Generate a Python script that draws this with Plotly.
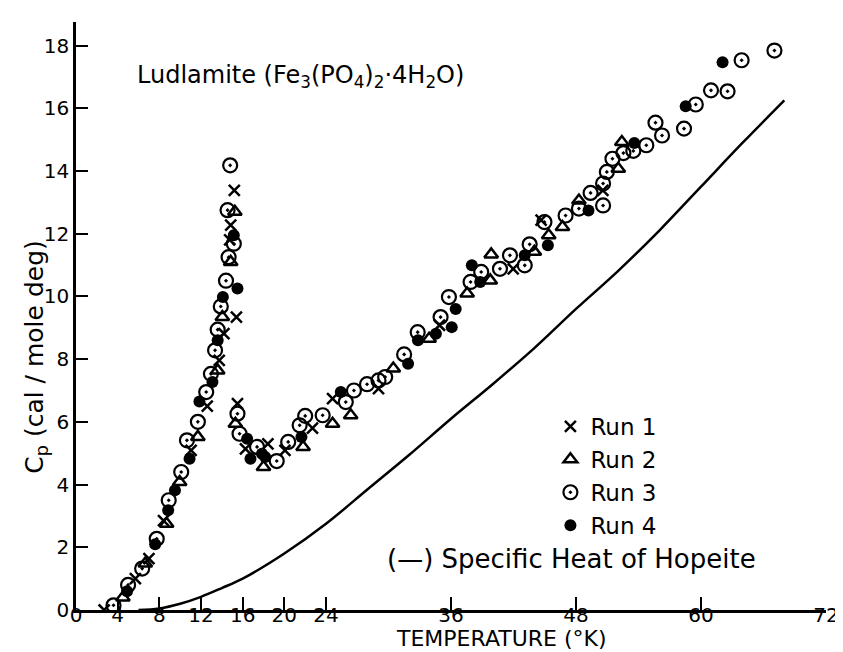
import plotly.graph_objects as go

# ---------------- data ----------------
run1_T = [2.7, 5.7, 7.0, 8.4, 11.05, 12.6, 13.75, 14.2, 14.75, 14.85, 15.2, 15.4, 15.5,
          16.27, 18.42, 20.06, 22.7, 24.63, 29.04, 34.9, 41.97, 44.65, 50.58]
run1_Cp = [0.0, 1.0, 1.64, 2.85, 5.09, 6.5, 7.96, 8.81, 11.8, 12.27, 13.38, 9.34, 6.58,
           5.14, 5.3, 5.09, 5.8, 6.74, 7.06, 9.08, 10.88, 12.43, 13.38]

run2_T = [4.5, 6.65, 8.7, 9.95, 11.7, 13.6, 14.05, 14.85, 15.25, 15.3, 18.0, 21.8, 24.63,
          26.37, 30.46, 33.9, 37.55, 39.77, 39.86, 44.0, 45.38, 46.7, 48.28, 52.06, 52.4]
run2_Cp = [0.4, 1.48, 2.75, 4.08, 5.52, 7.64, 9.34, 11.1, 12.7, 5.94, 4.56, 5.2, 5.94,
           6.21, 7.7, 8.65, 10.09, 10.51, 11.34, 11.42, 11.95, 12.21, 13.06, 14.07, 14.92]

run3_T = [3.6, 5.0, 6.35, 7.75, 8.9, 10.1, 10.65, 11.7, 12.5, 12.95, 13.35, 13.6, 13.9,
          14.4, 14.65, 15.15, 14.55, 14.8, 15.5, 15.7, 17.38, 19.27, 20.37, 21.47, 22.0,
          23.68, 25.9, 26.68, 27.94, 29.04, 29.68, 31.5, 32.8, 35.0, 35.8, 37.88, 38.9,
          40.7, 41.66, 43.08, 43.55, 44.97, 47.0, 48.28, 49.4, 50.6, 50.6, 50.96, 51.5,
          52.55, 53.5, 54.75, 55.63, 56.26, 58.37, 59.5, 60.96, 62.55, 63.9, 67.05]
run3_Cp = [0.15, 0.8, 1.32, 2.27, 3.5, 4.4, 5.41, 6.0, 6.95, 7.53, 8.28, 8.94, 9.68,
           10.5, 11.25, 11.68, 12.75, 14.18, 6.26, 5.62, 5.2, 4.75, 5.36, 5.89, 6.19,
           6.21, 6.63, 7.0, 7.2, 7.32, 7.43, 8.15, 8.86, 9.34, 9.98, 10.46, 10.78,
           10.88, 11.31, 10.99, 11.66, 12.37, 12.58, 12.8, 13.3, 12.9, 13.6, 13.97, 14.39,
           14.57, 14.64, 14.82, 15.54, 15.13, 15.35, 16.12, 16.57, 16.54, 17.53, 17.84]

run4_T = [4.9, 7.6, 8.85, 9.5, 10.9, 11.85, 13.1, 13.6, 14.1, 15.15, 15.5, 16.43, 16.75,
          17.85, 18.16, 21.64, 25.42, 31.88, 32.83, 34.55, 36.07, 36.45, 38.0, 38.8,
          43.08, 45.3, 49.2, 53.6, 58.53, 62.07]
run4_Cp = [0.6, 2.1, 3.18, 3.82, 4.82, 6.65, 7.27, 8.6, 9.98, 11.95, 10.25, 5.46, 4.82,
           4.98, 4.88, 5.52, 6.95, 7.85, 8.6, 8.81, 9.02, 9.6, 10.99, 10.46,
           11.31, 11.63, 12.74, 14.89, 16.06, 17.47]

hopeite_T = [6, 8, 10, 12, 14, 16, 20, 24, 28, 32, 36, 40, 44, 48, 52, 56, 60, 64, 68]
hopeite_Cp = [0.0, 0.05, 0.2, 0.42, 0.7, 1.0, 1.8, 2.75, 3.85, 4.95, 6.1, 7.2, 8.35, 9.6,
              10.8, 12.1, 13.5, 14.9, 16.25]

x_ticks = [0, 4, 8, 12, 16, 20, 24, 36, 48, 60, 72]
y_ticks = [0, 2, 4, 6, 8, 10, 12, 14, 16, 18]

title_text = "Ludlamite (Fe<sub>3</sub>(PO<sub>4</sub>)<sub>2</sub>·4H<sub>2</sub>O)"
hopeite_label = "(—) Specific Heat of Hopeite"
x_title = "TEMPERATURE (°K)"
y_title = "C<sub>p</sub> (cal / mole deg)"

FONT = "DejaVu Sans"
BLACK = "black"

fig = go.Figure()

fig.add_trace(go.Scatter(x=hopeite_T, y=hopeite_Cp, mode="lines",
                         line=dict(color=BLACK, width=2.5, shape="spline", smoothing=1.0),
                         showlegend=False, hoverinfo="skip"))

fig.add_trace(go.Scatter(x=run1_T, y=run1_Cp, mode="markers", name="Run 1",
                         marker=dict(symbol="x-thin", size=11, color=BLACK, line=dict(color=BLACK, width=2.5))))
fig.add_trace(go.Scatter(x=run2_T, y=run2_Cp, mode="markers", name="Run 2",
                         marker=dict(symbol="triangle-up-open", size=12, color=BLACK, line=dict(color=BLACK, width=2.5))))
fig.add_trace(go.Scatter(x=run3_T, y=run3_Cp, mode="markers", name="Run 3",
                         marker=dict(symbol="circle-open-dot", size=14, color=BLACK, line=dict(color=BLACK, width=2.2))))
fig.add_trace(go.Scatter(x=run4_T, y=run4_Cp, mode="markers", name="Run 4",
                         marker=dict(symbol="circle", size=12, color=BLACK, line=dict(width=0))))

fig.update_layout(
    width=843, height=652,
    margin=dict(l=68, r=13, t=14, b=50),
    plot_bgcolor="white", paper_bgcolor="white",
    font=dict(family=FONT, color=BLACK, size=20),
    showlegend=True,
    legend=dict(x=(550 - 68) / 762, y=(602 - 397) / 588, xanchor="left", yanchor="top",
                bgcolor="rgba(0,0,0,0)", font=dict(size=23, family=FONT), itemwidth=30,
                tracegroupgap=0),
    xaxis=dict(range=[0, 72], tickvals=x_ticks, ticktext=[str(v) for v in x_ticks],
               ticks="inside", ticklen=13, tickwidth=2, tickcolor=BLACK,
               ticklabelstandoff=-15,
               showline=True, linecolor=BLACK, linewidth=2.5, showgrid=False, zeroline=False,
               tickfont=dict(size=20), fixedrange=True),
    yaxis=dict(range=[0, 18.75], tickvals=y_ticks, ticktext=[str(v) for v in y_ticks],
               ticks="inside", ticklen=12, tickwidth=2, tickcolor=BLACK,
               showline=True, linecolor=BLACK, linewidth=2.5, showgrid=False, zeroline=False,
               tickfont=dict(size=20), fixedrange=True),
    annotations=[
        dict(text=title_text, xref="paper", yref="paper", x=(128 - 68) / 762, y=(602 - 68) / 588,
             xanchor="left", yanchor="middle", showarrow=False, font=dict(size=24, family=FONT)),
        dict(text=hopeite_label, xref="paper", yref="paper", x=(382 - 68) / 762, y=(602 - 551) / 588,
             xanchor="left", yanchor="middle", showarrow=False, font=dict(size=26, family=FONT)),
        dict(text=x_title, xref="paper", yref="paper", x=(500 - 68) / 762, y=-(631 - 602) / 588,
             xanchor="center", yanchor="middle", showarrow=False, borderpad=0,
             font=dict(size=22, family=FONT)),
        dict(text=y_title, xref="paper", yref="paper", x=-(68 - 27) / 762, y=(602 - 349) / 588,
             xanchor="center", yanchor="middle", textangle=-90, showarrow=False,
             font=dict(size=25, family=FONT)),
    ],
)

fig.write_html("out.html")
